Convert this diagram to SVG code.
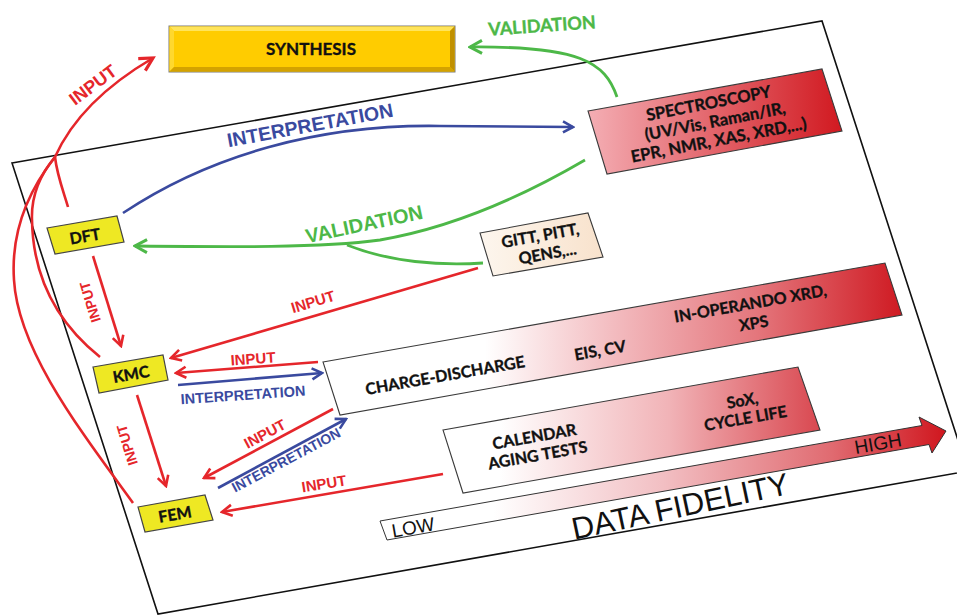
<svg xmlns="http://www.w3.org/2000/svg" width="957" height="615" viewBox="0 0 957 615">
<defs>
<linearGradient id="gSpec" x1="0" y1="0" x2="1" y2="0"><stop offset="0" stop-color="#F4AEB4"/><stop offset="1" stop-color="#D11920"/></linearGradient>
<linearGradient id="gCD" x1="0" y1="0" x2="1" y2="0"><stop offset="0" stop-color="#FFFFFF"/><stop offset="0.28" stop-color="#FFFFFF"/><stop offset="0.5" stop-color="#F3BCC0"/><stop offset="0.75" stop-color="#E4767C"/><stop offset="1" stop-color="#CF1A22"/></linearGradient>
<linearGradient id="gCal" x1="0" y1="0" x2="1" y2="0"><stop offset="0" stop-color="#FFFFFF"/><stop offset="0.15" stop-color="#FFFFFF"/><stop offset="0.6" stop-color="#F1B3B7"/><stop offset="1" stop-color="#D94850"/></linearGradient>
<linearGradient id="gFid" x1="0" y1="0" x2="1" y2="0"><stop offset="0" stop-color="#FFFFFF"/><stop offset="0.2" stop-color="#FFFFFF"/><stop offset="0.5" stop-color="#F2BFC3"/><stop offset="0.8" stop-color="#E06A70"/><stop offset="1" stop-color="#D0161E"/></linearGradient>
<linearGradient id="gGitt" x1="0" y1="0" x2="1" y2="0"><stop offset="0" stop-color="#FDF6EE"/><stop offset="1" stop-color="#F8E2CC"/></linearGradient>
<marker id="mr" markerUnits="userSpaceOnUse" viewBox="0 0 14 14" refX="12" refY="7" markerWidth="14" markerHeight="14" orient="auto"><path d="M2,1.5 L12,7 L2,12.5" fill="none" stroke="#E5262B" stroke-width="2.6"/></marker>
<marker id="mrL" markerUnits="userSpaceOnUse" viewBox="0 0 18 18" refX="15" refY="9" markerWidth="18" markerHeight="18" orient="auto"><path d="M2,2 L15,9 L2,16" fill="none" stroke="#E5262B" stroke-width="3.2"/></marker>
<marker id="mb" markerUnits="userSpaceOnUse" viewBox="0 0 14 14" refX="12" refY="7" markerWidth="14" markerHeight="14" orient="auto"><path d="M2,1.5 L12,7 L2,12.5" fill="none" stroke="#3A4A9F" stroke-width="2.6"/></marker>
<marker id="mg" markerUnits="userSpaceOnUse" viewBox="0 0 16 16" refX="14" refY="8" markerWidth="16" markerHeight="16" orient="auto"><path d="M2,1.5 L14,8 L2,14.5" fill="none" stroke="#4DB848" stroke-width="3"/></marker>
</defs>
<style>
.box{stroke:#3a3a3a;stroke-width:1.1}
.ybox{fill:#EEE823;stroke:#444;stroke-width:1.2}
.bt{font-family:Lato,"Liberation Sans",sans-serif;font-weight:700;fill:#111;stroke:#111;stroke-width:0.35;text-anchor:middle}
.lab{font-family:"Liberation Sans",Arial,sans-serif;font-weight:700;text-anchor:middle}
.ar{font-family:"Liberation Sans",Arial,sans-serif;fill:#111;text-anchor:middle}
.r{stroke:#E5262B;fill:none;stroke-width:2.6}
.b{stroke:#3A4A9F;fill:none;stroke-width:2.6}
.g{stroke:#4DB848;fill:none;stroke-width:2.8}
.rt{fill:#E5262B}
.btx{fill:#3A4A9F}
.gt{fill:#4DB848}
</style>
<rect width="957" height="615" fill="#fff"/>
<polygon points="12,163 822,21 968,471 158,614" fill="#fff" stroke="#111" stroke-width="1.6"/>

<g id="synthesis">
<rect x="169" y="26" width="286" height="46" fill="#FFCC00" stroke="#7a7a7a" stroke-width="1"/>
<polygon points="169.5,26.5 454.5,26.5 450,31 174,31" fill="#FFE45A"/>
<polygon points="169.5,26.5 174,31 174,67 169.5,71.5" fill="#FFD82E"/>
<polygon points="169.5,71.5 174,67 450,67 454.5,71.5" fill="#D4A200"/>
<polygon points="454.5,26.5 450,31 450,67 454.5,71.5" fill="#C09000"/>
<text class="bt" x="311" y="55" font-size="17">SYNTHESIS</text>
</g>

<g id="spectroscopy">
<polygon class="box" points="588,111 822,69 842,131 607,174" fill="url(#gSpec)"/>
<text class="bt" font-size="16.5" transform="translate(715,121) rotate(-11)"><tspan x="-3" y="-13">SPECTROSCOPY</tspan><tspan x="0" y="6">(UV/Vis, Raman/IR,</tspan><tspan x="0" y="25">EPR, NMR, XAS, XRD,...)</tspan></text>
</g>

<g id="gitt">
<polygon class="box" points="480,233 588,213 603,257 493,276" fill="url(#gGitt)"/>
<text class="bt" font-size="16" transform="translate(542,245) rotate(-10)"><tspan x="0" y="-4">GITT, PITT,</tspan><tspan x="4" y="15">QENS,...</tspan></text>
</g>

<g id="charge-discharge">
<polygon class="box" points="323,362 885,263 902,315 340,415" fill="url(#gCD)"/>
<text class="bt" font-size="16" transform="translate(445,375) rotate(-10)" y="6">CHARGE-DISCHARGE</text>
<text class="bt" font-size="16" transform="translate(600,350) rotate(-10)" y="6">EIS, CV</text>
<text class="bt" font-size="16" transform="translate(752,313) rotate(-10)"><tspan x="0" y="-4">IN-OPERANDO XRD,</tspan><tspan x="0" y="16">XPS</tspan></text>
</g>

<g id="calendar">
<polygon class="box" points="443,430 798,367 820,430 463,493" fill="url(#gCal)"/>
<text class="bt" font-size="16" transform="translate(536,446) rotate(-10)"><tspan x="0" y="-4">CALENDAR</tspan><tspan x="0" y="15">AGING TESTS</tspan></text>
<text class="bt" font-size="16" transform="translate(744,410) rotate(-10)"><tspan x="0" y="-4">SoX,</tspan><tspan x="0" y="14">CYCLE LIFE</tspan></text>
</g>

<g id="data-fidelity">
<polygon points="380,521 922,425.5 919,417 946,431 932,453 929,444.5 387,540" fill="url(#gFid)" stroke="#333" stroke-width="1"/>
<text class="ar" font-size="19" transform="translate(413,527) rotate(-10)" y="7">LOW</text>
<text class="ar" font-size="19" transform="translate(878,443) rotate(-10)" y="7" fill="#222">HIGH</text>
<text class="ar" font-size="31" transform="translate(680,506) rotate(-12)" y="11">DATA FIDELITY</text>
</g>

<g id="dft">
<polygon class="ybox" points="47,228 117,216 124,242 55,254"/>
<text class="bt" font-size="16" transform="translate(85,236) rotate(-10)" y="6">DFT</text>
</g>
<g id="kmc">
<polygon class="ybox" points="93,367 163,355 168,380 99,393"/>
<text class="bt" font-size="16" transform="translate(131,374) rotate(-10)" y="6">KMC</text>
</g>
<g id="fem">
<polygon class="ybox" points="138,507 205,495 213,520 145,532"/>
<text class="bt" font-size="16" transform="translate(175,514) rotate(-10)" y="6">FEM</text>
</g>

<g id="connectors">
<path class="r" d="M100,357 C60,325 33,280 32,220 C31,195 40,175 55,157"/>
<path class="r" d="M133,503 C80,430 18,350 14,280 C11,235 25,195 55,157"/>
<path class="r" d="M68,207 C63,190 57,175 55,157"/>
<path class="r" stroke-width="3" d="M55,157 C68,128 95,92 153,58" marker-end="url(#mrL)"/>
<text class="lab rt" font-size="18" transform="translate(93,85) rotate(-37)" y="6">INPUT</text>

<path class="r" d="M478,268 L171,358" marker-end="url(#mr)"/>
<text class="lab rt" font-size="15" transform="translate(313,302) rotate(-17)" y="5">INPUT</text>
<path class="r" d="M318,362 L176,373" marker-end="url(#mr)"/>
<text class="lab rt" font-size="15" transform="translate(253,359) rotate(-4)" y="5">INPUT</text>
<path class="r" d="M333,409 L204,478" marker-end="url(#mr)"/>
<text class="lab rt" font-size="15" transform="translate(265,434) rotate(-28)" y="5">INPUT</text>
<path class="r" d="M443,474 L222,512" marker-end="url(#mr)"/>
<text class="lab rt" font-size="15" transform="translate(324,484) rotate(-9)" y="5">INPUT</text>
<path class="r" d="M93,256 L121,346" marker-end="url(#mr)"/>
<text class="lab rt" font-size="14" transform="translate(90,302) rotate(-107)" y="5">INPUT</text>
<path class="r" d="M137,395 L166,486" marker-end="url(#mr)"/>
<text class="lab rt" font-size="14" transform="translate(127,445) rotate(-107)" y="5">INPUT</text>

<path class="b" d="M123,213 C210,155 320,124 440,126 L573,127" marker-end="url(#mb)"/>
<text class="lab btx" font-size="19.5" transform="translate(310,125) rotate(-10.5)" y="7">INTERPRETATION</text>
<path class="b" d="M178,385 L322,373" marker-end="url(#mb)"/>
<text class="lab btx" font-size="14.5" transform="translate(243,395) rotate(-4)" y="5">INTERPRETATION</text>
<path class="b" d="M218,488 L346,419" marker-end="url(#mb)"/>
<text class="lab btx" font-size="14" transform="translate(286,460) rotate(-28)" y="5">INTERPRETATION</text>

<path class="g" d="M617,97 C605,62 580,46 470,47" marker-end="url(#mg)"/>
<text class="bt gt" font-size="18" transform="translate(542,26) rotate(-4)" y="6" style="fill:#4DB848;stroke:#4DB848">VALIDATION</text>
<path class="g" d="M585,160 C520,198 450,228 380,240 C320,248 230,247 135,246" marker-end="url(#mg)"/>
<path class="g" d="M483,263 C440,266 390,262 347,245"/>
<text class="lab gt" font-size="20" transform="translate(364,224) rotate(-12)" y="7">VALIDATION</text>
</g>
</svg>
